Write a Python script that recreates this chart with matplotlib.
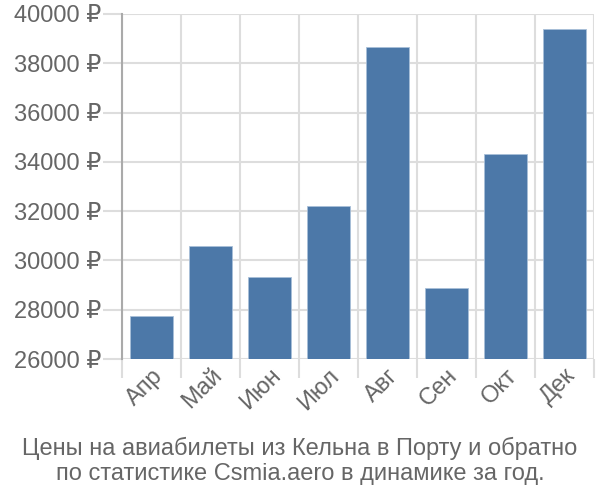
import matplotlib
matplotlib.use("Agg")
import matplotlib.pyplot as plt

months = ["Апр", "Май", "Июн", "Июл", "Авг", "Сен", "Окт", "Дек"]
prices = [27730, 30570, 29330, 32200, 38670, 28870, 34320, 39400]
yticks = [26000, 28000, 30000, 32000, 34000, 36000, 38000, 40000]
title = "Цены на авиабилеты из Кельна в Порту и обратно\nпо статистике Csmia.aero в динамике за год."

plt.rcParams['font.family'] = ['Liberation Sans', 'DejaVu Sans']
text_color = "#666666"
grid_color = "#dddddd"

fig = plt.figure(figsize=(6, 5), dpi=100)
ax = fig.add_axes([122/600, 1 - 359/500, (594 - 122)/600, (359 - 14)/500])

x = list(range(len(months)))
ax.bar(x, prices, width=0.72, color="#4c78a8", edgecolor="#a8bfd8", linewidth=0.6, zorder=3)

ax.set_xlim(-0.5, len(months) - 0.5)
ax.set_ylim(26000, 40000)
ax.set_yticks(yticks)
ax.set_yticklabels([f"{v} ₽" for v in yticks], fontsize=17, color=text_color)

ax.set_xticks([i - 0.5 for i in range(len(months) + 1)], minor=False)
ax.set_xticklabels([""] * (len(months) + 1))
ax.set_xticks(x, minor=True)
ax.set_xticklabels(months, minor=True, rotation=45, ha="right", rotation_mode="anchor",
                   fontsize=17, color=text_color)
ax.tick_params(axis="x", which="minor", length=0, pad=4)
ax.tick_params(axis="x", which="major", length=14, color=grid_color, width=1.5)
ax.tick_params(axis="y", length=14, color=grid_color, width=1.5, pad=1)

ax.grid(True, which="major", color=grid_color, linewidth=1.5, zorder=0)
for s in ["top", "right", "bottom"]:
    ax.spines[s].set_visible(False)
ax.spines["left"].set_color("#aaaaaa")
ax.spines["left"].set_linewidth(1.5)
ax.spines["left"].set_bounds(26000, 40000)

fig.text(0.5, 1 - 461/500, title, ha="center", va="center", fontsize=17,
         color=text_color, linespacing=1.15)

fig.savefig("out.png", dpi=100)
